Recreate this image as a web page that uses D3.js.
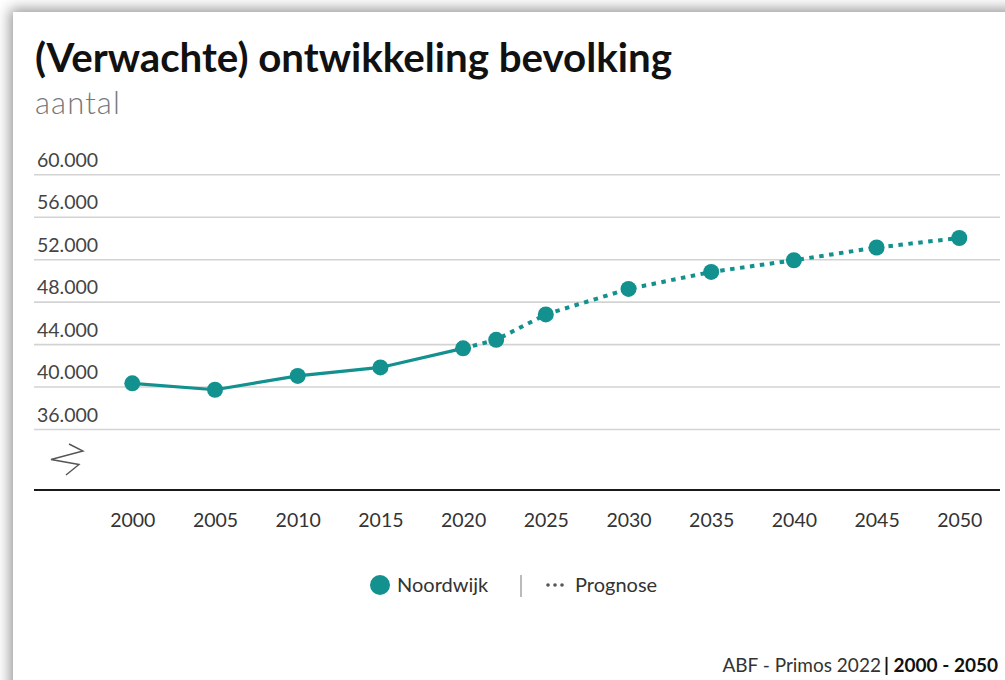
<!DOCTYPE html>
<html>
<head>
<meta charset="utf-8">
<script src="https://cdn.jsdelivr.net/npm/d3@7"></script>
<style>
  html, body { margin: 0; padding: 0; width: 1005px; height: 680px; overflow: hidden; background: #ffffff; }
  #card { position: absolute; left: 13px; top: 12px; width: 1200px; height: 900px; background: #fff;
          box-shadow: 0 0 13px 3px rgba(0,0,0,0.42); }
  svg { position: absolute; left: 0; top: 0; }
  text { font-family: Lato, "Open Sans", sans-serif; }
</style>
</head>
<body>
<div id="card"></div>
<svg id="chart" width="1005" height="680"></svg>
<script>
// ---- data ----
const years = [2000, 2005, 2010, 2015, 2020, 2022, 2025, 2030, 2035, 2040, 2045, 2050];
const population = [40300, 39700, 41000, 41800, 43600, 44400, 46800, 49200, 50800, 51900, 53100, 54000];
const lastObservedYear = 2020;
const yTicks = [36000, 40000, 44000, 48000, 52000, 56000, 60000];
const xTicks = [2000, 2005, 2010, 2015, 2020, 2025, 2030, 2035, 2040, 2045, 2050];
const titleText = "(Verwachte) ontwikkeling bevolking";
const subtitleText = "aantal";
const seriesName = "Noordwijk";
const prognosisName = "Prognose";
const sourceText = "ABF - Primos 2022";
const periodText = "2000 - 2050";

const teal = "#12918f";
const svg = d3.select("#chart");
const nl = d3.formatLocale({decimal: ",", thousands: ".", grouping: [3], currency: ["€", ""]});
const fmt = nl.format(",.0f");

const data = years.map((y, i) => ({year: y, value: population[i]}));

const x = d3.scaleLinear().domain([2000, 2050]).range([132.3, 959.3]);
const y = d3.scaleLinear().domain([36000, 60000]).range([429, 174.3]);

function fit(sel, target) {
  const w = sel.node().getComputedTextLength();
  const fs = parseFloat(sel.attr("font-size"));
  sel.attr("font-size", (fs * target / w).toFixed(2));
}

// title
const t = svg.append("text").attr("x", 35).attr("y", 72).attr("font-size", 34)
  .attr("font-weight", 700).attr("fill", "#111").text(titleText);
fit(t, 637);
const st = svg.append("text").attr("x", 35).attr("y", 114).attr("font-size", 31)
  .attr("font-weight", 300).attr("letter-spacing", 1.1).attr("fill", "#777").text(subtitleText);

// y axis with gridlines
const gy = svg.append("g").attr("transform", "translate(34,0)")
  .call(d3.axisRight(y).tickValues(yTicks).tickSize(966).tickFormat(fmt));
gy.select(".domain").remove();
gy.selectAll(".tick line").attr("stroke", "#d3d3d3").attr("stroke-width", 1.6);
gy.selectAll(".tick text").attr("x", 3).attr("y", -8).attr("dy", null)
  .attr("text-anchor", "start").attr("font-size", 19.5).attr("fill", "#444")
  .style("font-family", "Lato, sans-serif");

// axis break symbol
svg.append("path")
  .attr("d", "M69,444 L83,451 L51,459.5 L79,464.5 L66,475")
  .attr("fill", "none").attr("stroke", "#555").attr("stroke-width", 1.4);

// x axis
const gx = svg.append("g").attr("transform", "translate(0,490)")
  .call(d3.axisBottom(x).tickValues(xTicks).tickSize(0).tickFormat(d3.format("d")));
gx.select(".domain").remove();
gx.selectAll(".tick text").attr("y", 37).attr("dy", null).attr("font-size", 19.5)
  .attr("fill", "#333").style("font-family", "Lato, sans-serif");
svg.append("line").attr("x1", 34).attr("x2", 1000).attr("y1", 490).attr("y2", 490)
  .attr("stroke", "#1a1a1a").attr("stroke-width", 2);

// lines
const line = d3.line().x(d => x(d.year)).y(d => y(d.value));
svg.append("path").datum(data.filter(d => d.year <= lastObservedYear))
  .attr("d", line).attr("fill", "none").attr("stroke", teal).attr("stroke-width", 3.2);
svg.append("path").datum(data.filter(d => d.year >= lastObservedYear))
  .attr("d", line).attr("fill", "none").attr("stroke", teal).attr("stroke-width", 4)
  .attr("stroke-dasharray", "4.5 5.5");

// points
svg.append("g").selectAll("circle").data(data).join("circle")
  .attr("cx", d => x(d.year)).attr("cy", d => y(d.value)).attr("r", 8).attr("fill", teal);

// legend
const lg = svg.append("g");
lg.append("circle").attr("cx", 380).attr("cy", 585).attr("r", 10).attr("fill", teal);
lg.append("text").attr("x", 397).attr("y", 592).attr("font-size", 20).attr("fill", "#333").text(seriesName);
lg.append("line").attr("x1", 521).attr("x2", 521).attr("y1", 575).attr("y2", 597)
  .attr("stroke", "#777").attr("stroke-width", 1);
lg.append("g").selectAll("circle").data([0, 1, 2]).join("circle")
  .attr("cx", d => 548 + d * 7).attr("cy", 585).attr("r", 1.8).attr("fill", "#555");
lg.append("text").attr("x", 575).attr("y", 592).attr("font-size", 20).attr("fill", "#333").text(prognosisName);

// footer
const ft = svg.append("text").attr("x", 998).attr("y", 672).attr("text-anchor", "end")
  .attr("font-size", 19).attr("fill", "#333");
ft.append("tspan").text(sourceText);
ft.append("tspan").attr("dx", 3).attr("font-weight", 700).attr("fill", "#111").text("| " + periodText);
</script>
</body>
</html>
